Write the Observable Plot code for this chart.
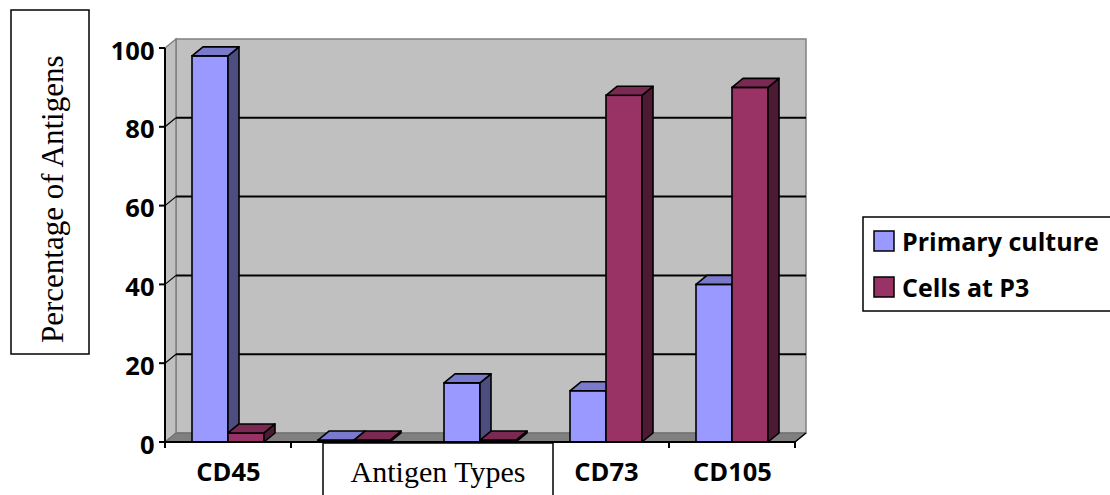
<!DOCTYPE html>
<html><head><meta charset="utf-8">
<script src="https://cdn.jsdelivr.net/npm/d3@7"></script>
<script src="https://cdn.jsdelivr.net/npm/@observablehq/plot@0.6"></script>
<style>
html,body{margin:0;padding:0;background:#fff;overflow:hidden;}
#wrap{position:relative;width:1110px;height:495px;overflow:hidden;background:#fff;}
#wrap svg{position:absolute;left:0;top:0;}
</style></head><body><div id="wrap"></div>
<script>
// ---- data ----
const categories = ["CD45", "CD34", "CD31", "CD73", "CD105"];
const seriesNames = ["Primary culture", "Cells at P3"];
const primaryCulture = [98, 0.5, 15, 13, 40];
const cellsAtP3 = [2.3, 0.5, 0.5, 88, 90];
const yTicks = [0, 20, 40, 60, 80, 100];
const yLabel = "Percentage of Antigens";
const xLabel = "Antigen Types";

// ---- styles / layout ----
const front = ["#9999ff", "#993366"];
const topC = ["#7a7acc", "#7a2952"];
const sideC = ["#4d4d80", "#4d1a33"];
const X0 = 165, X1 = 795, Y0 = 442, Y1 = 48, DX = 11, DY = -9;
const PI = 0.4286, PO = 0.2143;
const step = (X1 - X0) / (categories.length - PI + 2 * PO);
const bw = step * (1 - PI);
const sans = "'Open Sans', 'DejaVu Sans', sans-serif";
const serif = "'Liberation Serif', 'DejaVu Serif', serif";

const rows0 = categories.map((c, i) => ({cat: c, series: seriesNames[0], value: primaryCulture[i]}));
const rows1 = categories.map((c, i) => ({cat: c, series: seriesNames[1], value: cellsAtP3[i]}));

const pts = a => a.map(p => p.join(",")).join(" ");

function walls(index, scales) {
  const x = scales.x, y = scales.y;
  const [r0, r1] = x.range ? x.range() : [X0, X1];
  const g = d3.create("svg:g");
  const yt = y(yTicks[yTicks.length - 1]), yb = y(0);
  g.append("polygon").attr("points", pts([[r0 + DX, yt + DY], [r1 + DX, yt + DY], [r1 + DX, yb + DY], [r0 + DX, yb + DY]]))
    .attr("fill", "#c0c0c0").attr("stroke", "#808080").attr("stroke-width", 1.5);
  g.append("polygon").attr("points", pts([[r0, yt], [r0 + DX, yt + DY], [r0 + DX, yb + DY], [r0, yb]]))
    .attr("fill", "#c0c0c0").attr("stroke", "#808080").attr("stroke-width", 1.5);
  g.append("polygon").attr("points", pts([[r0, yb], [r0 + DX, yb + DY], [r1 + DX, yb + DY], [r1, yb]]))
    .attr("fill", "#808080").attr("stroke", "#6a6a6a").attr("stroke-width", 1);
  yTicks.filter(v => v > 0 && v < 100).forEach(v => {
    g.append("line").attr("x1", r0 + DX).attr("x2", r1 + DX).attr("y1", y(v) + DY).attr("y2", y(v) + DY)
      .attr("stroke", "#000").attr("stroke-width", 2);
    g.append("line").attr("x1", r0).attr("x2", r0 + DX).attr("y1", y(v)).attr("y2", y(v) + DY)
      .attr("stroke", "#000").attr("stroke-width", 1.2);
  });
  return g.node();
}

function faces(vals, k) {
  return (index, scales) => {
    const x = scales.x, y = scales.y;
    const half = (x.bandwidth ? x.bandwidth() : bw) / 2;
    const g = d3.create("svg:g").attr("stroke", "#000").attr("stroke-width", 1.6).attr("stroke-linejoin", "round");
    categories.forEach((c, i) => {
      const a = x(c) + k * half, b = a + half, t = y(vals[i]), z = y(0);
      g.append("polygon").attr("fill", sideC[k]).attr("points", pts([[b, t], [b + DX, t + DY], [b + DX, z + DY], [b, z]]));
      g.append("polygon").attr("fill", topC[k]).attr("points", pts([[a, t], [a + DX, t + DY], [b + DX, t + DY], [b, t]]));
    });
    return g.node();
  };
}

function axes(index, scales) {
  const x = scales.x, y = scales.y;
  const [r0, r1] = x.range ? x.range() : [X0, X1];
  const st = x.step ? x.step() : step;
  const g = d3.create("svg:g").attr("stroke", "#000");
  const yb = y(0);
  g.append("line").attr("x1", r0).attr("x2", r0).attr("y1", y(100)).attr("y2", yb + 6).attr("stroke-width", 2);
  yTicks.forEach(v => g.append("line").attr("x1", r0 - 6).attr("x2", r0).attr("y1", y(v)).attr("y2", y(v)).attr("stroke-width", 2));
  g.append("line").attr("x1", r0).attr("x2", r1).attr("y1", yb).attr("y2", yb).attr("stroke-width", 2);
  for (let k = 0; k <= categories.length; k++) {
    const xx = r0 + k * st;
    g.append("line").attr("x1", xx).attr("x2", xx).attr("y1", yb).attr("y2", yb + 6).attr("stroke-width", 2);
  }
  g.append("line").attr("x1", r1).attr("x2", r1 + DX).attr("y1", yb).attr("y2", yb + DY).attr("stroke-width", 1.5);
  return g.node();
}

const chart = Plot.plot({
  width: 1110,
  height: 495,
  margin: 0,
  style: {background: "transparent", overflow: "visible"},
  x: {type: "band", domain: categories, range: [X0, X1], paddingInner: PI, paddingOuter: PO, axis: null},
  y: {domain: [0, 100], range: [Y0, Y1], axis: null},
  marks: [
    walls,
    Plot.barY(rows0, {x: "cat", y: "value", fill: front[0], stroke: "#000", strokeWidth: 1.6, insetRight: bw / 2}),
    faces(primaryCulture, 0),
    Plot.barY(rows1, {x: "cat", y: "value", fill: front[1], stroke: "#000", strokeWidth: 1.6, insetLeft: bw / 2}),
    faces(cellsAtP3, 1),
    axes,
    Plot.text(yTicks, {y: d => d, text: d => String(d), frameAnchor: "left", dx: X0 - 11, dy: 3, textAnchor: "end",
      fontFamily: sans, fontWeight: "bold", fontSize: 25.5, fill: "#000"}),
    Plot.text(categories, {x: d => d, text: d => d, frameAnchor: "bottom", dy: -15,
      fontFamily: sans, fontWeight: "bold", fontSize: 25.5, fill: "#000"})
  ]
});
document.getElementById("wrap").appendChild(chart);

// overlay: axis-title boxes and legend
const ov = d3.select("#wrap").append("svg").attr("width", 1110).attr("height", 495);
ov.append("rect").attr("x", 11).attr("y", 10).attr("width", 78).attr("height", 344)
  .attr("fill", "#fff").attr("stroke", "#000").attr("stroke-width", 1.5);
ov.append("text").attr("transform", "translate(63,343) rotate(-90)").attr("font-family", serif)
  .attr("font-size", 31).attr("fill", "#000").text(yLabel);
ov.append("rect").attr("x", 323).attr("y", 443).attr("width", 230).attr("height", 60)
  .attr("fill", "#fff").attr("stroke", "#000").attr("stroke-width", 1.5);
ov.append("text").attr("x", 438).attr("y", 482).attr("text-anchor", "middle").attr("font-family", serif)
  .attr("font-size", 30).attr("fill", "#000").text(xLabel);
ov.append("rect").attr("x", 863).attr("y", 217).attr("width", 270).attr("height", 94)
  .attr("fill", "#fff").attr("stroke", "#000").attr("stroke-width", 1.5);
seriesNames.forEach((s, k) => {
  const yy = 231 + k * 46;
  ov.append("rect").attr("x", 874).attr("y", yy).attr("width", 20).attr("height", 20)
    .attr("fill", front[k]).attr("stroke", "#000").attr("stroke-width", 1.5);
  ov.append("text").attr("x", 902).attr("y", yy + 20).attr("font-family", sans).attr("font-weight", "bold")
    .attr("font-size", 25).attr("fill", "#000").text(s);
});
</script></body></html>
